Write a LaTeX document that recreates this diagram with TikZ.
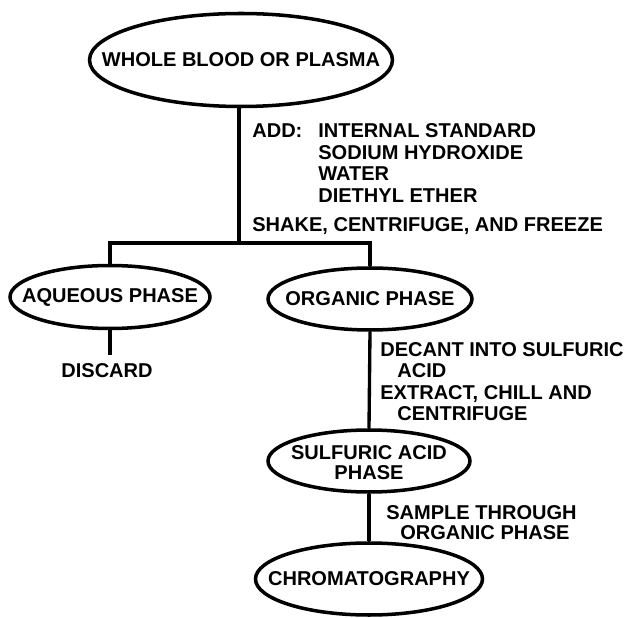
\documentclass[tikz,border=0pt]{standalone}
\usepackage{fontspec}
\setmainfont{Liberation Sans}
\usetikzlibrary{shapes.geometric,positioning}
\tikzset{
  phase/.style={ellipse,draw,line width=2pt,inner sep=0pt},
  phasetxt/.style={inner sep=0pt,align=center},
  flowline/.style={line width=1.9pt},
  notetxt/.style={anchor=west,inner sep=0pt,text height=2.9mm,text depth=0pt}
}

\begin{document}
\begin{tikzpicture}[font=\fontsize{11.4}{11.6}\selectfont\bfseries]
  \useasboundingbox (0,0) rectangle (12.58,-12.36);
  % phases
  \node[phase,minimum width=6.06cm,minimum height=1.86cm] (blood) at (4.82,-1.20) {};
  \node[phasetxt] (bloodtxt) at (blood) {WHOLE BLOOD OR PLASMA};
  \node[phase,minimum width=4.0cm,minimum height=1.26cm] (aqueous) at (2.20,-5.94) {};
  \node[phasetxt] (aqueoustxt) at (aqueous) {AQUEOUS PHASE};
  \node[phase,minimum width=4.08cm,minimum height=1.24cm] (organic) at (7.40,-5.98) {};
  \node[phasetxt] (organictxt) at (organic) {ORGANIC PHASE};
  \node[phase,minimum width=4.04cm,minimum height=1.24cm] (sulfuric) at (7.38,-9.22) {};
  \node[phasetxt] (sulfurictxt) at ([yshift=-1pt]sulfuric) {SULFURIC ACID\\PHASE};
  \node[phase,minimum width=4.54cm,minimum height=1.44cm] (chrom) at (7.38,-11.58) {};
  \node[phasetxt] (chromtxt) at (chrom) {CHROMATOGRAPHY};
  \node[notetxt,anchor=north] (discard) at (2.14,-7.26) {DISCARD};
  % connectors
  \coordinate (split) at (4.78,-4.86);
  \draw[flowline] (blood.south -| split) -- (split);
  \draw[flowline] (aqueous.north) |- (split) -| (organic.north);
  \draw[flowline] (aqueous.south) -- ([yshift=-0.5cm]aqueous.south);
  \draw[flowline] (organic.south) -- (sulfuric.north);
  \draw[flowline] (sulfuric.south) -- (chrom.north);
  % notes
  \node[notetxt] (add) at (5.04,-2.60) {ADD:};
  \node[notetxt] (istd) at (6.36,-2.60) {INTERNAL STANDARD};
  \node[notetxt] (naoh) at (6.36,-3.04) {SODIUM HYDROXIDE};
  \node[notetxt] (water) at (6.36,-3.46) {WATER};
  \node[notetxt] (ether) at (6.36,-3.90) {DIETHYL ETHER};
  \node[notetxt] (shake) at (5.04,-4.48) {SHAKE, CENTRIFUGE, AND FREEZE};
  \node[notetxt] (decant) at (7.60,-6.98) {DECANT INTO SULFURIC};
  \node[notetxt] (acid) at (7.94,-7.40) {ACID};
  \node[notetxt] (extract) at (7.60,-7.84) {EXTRACT, CHILL AND};
  \node[notetxt] (centr) at (7.94,-8.26) {CENTRIFUGE};
  \node[notetxt] (sample) at (7.72,-10.24) {SAMPLE THROUGH};
  \node[notetxt] (orgph) at (8.00,-10.64) {ORGANIC PHASE};
\end{tikzpicture}
\end{document}
